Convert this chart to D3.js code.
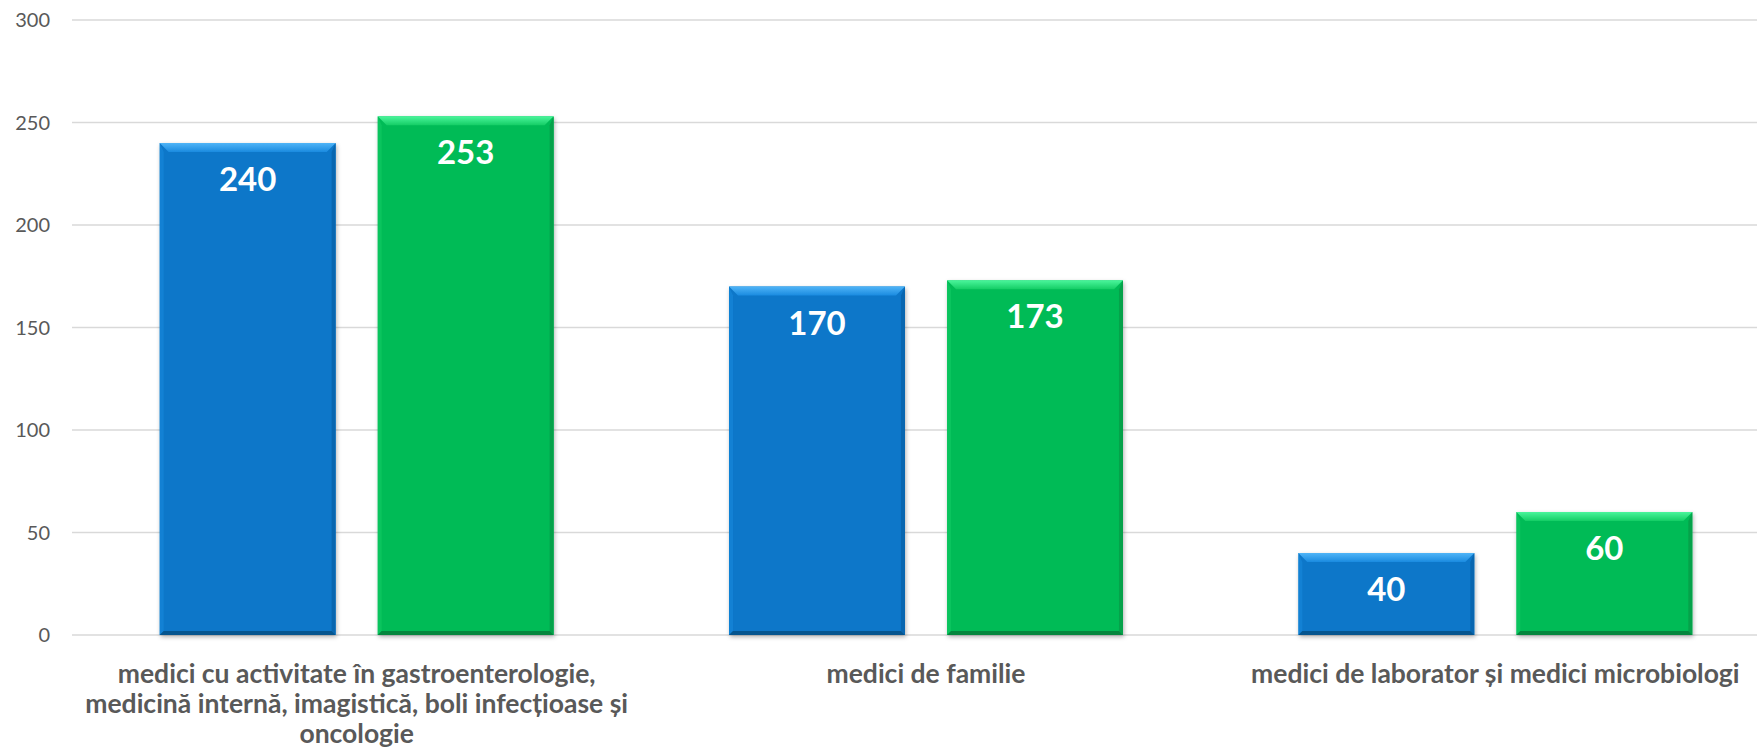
<!DOCTYPE html>
<html>
<head>
<meta charset="utf-8">
<script src="https://cdn.jsdelivr.net/npm/d3@7"></script>
<style>
  html, body { margin: 0; padding: 0; background: #fff; }
  svg { display: block; font-family: Lato, "Open Sans", sans-serif; }
</style>
</head>
<body>
<div id="root"></div>
<script>
const width = 1757;
const height = 754;

// data
const categories = [
  'medici cu activitate în gastroenterologie, medicină internă, imagistică, boli infecțioase și oncologie',
  'medici de familie',
  'medici de laborator și medici microbiologi'
];
const seriesNames = ['s1', 's2'];
const series1 = [240, 170, 40];
const series2 = [253, 173, 60];
const yTicks = [0, 50, 100, 150, 200, 250, 300];

const colors = {
  s1: {main: '#0777c9', light: '#4fb4f7', lightEnd: '#1a8be0', dark: '#05558f', side: '#0866b0'},
  s2: {main: '#06bb56', light: '#4af59b', lightEnd: '#14cd65', dark: '#04863d', side: '#05a24a'}
};

const svg = d3.select('#root')
  .append('svg')
  .attr('width', width).attr('height', height);

const defs = svg.append('defs');
const shadow = defs.append('filter').attr('id', 'shadow')
  .attr('x', '-10%').attr('y', '-10%').attr('width', '130%').attr('height', '130%');
shadow.append('feDropShadow')
  .attr('dx', 1).attr('dy', 2).attr('stdDeviation', 2)
  .attr('flood-color', '#000').attr('flood-opacity', 0.3);

seriesNames.forEach(s => {
  const g = defs.append('linearGradient').attr('id', 'top-' + s)
    .attr('x1', 0).attr('y1', 0).attr('x2', 0).attr('y2', 1);
  g.append('stop').attr('offset', '0%').attr('stop-color', colors[s].light);
  g.append('stop').attr('offset', '100%').attr('stop-color', colors[s].lightEnd);
});

const plot = {left: 72, right: 1780, top: 20, bottom: 635};

const x0 = d3.scaleBand()
  .domain(categories)
  .range([plot.left, plot.right])
  .paddingInner(0.308)
  .paddingOuter(0.154);

const x1 = d3.scaleBand()
  .domain(seriesNames)
  .range([0, x0.bandwidth()])
  .paddingInner(0.193);

const y = d3.scaleLinear()
  .domain([0, 300])
  .range([plot.bottom, plot.top]);

// gridlines
svg.append('g')
  .selectAll('line')
  .data(yTicks).enter()
  .append('line')
  .attr('x1', plot.left)
  .attr('x2', width)
  .attr('y1', d => y(d))
  .attr('y2', d => y(d))
  .attr('stroke', '#d9d9d9')
  .attr('stroke-width', 1.5);

// y axis labels
svg.append('g')
  .selectAll('text')
  .data(yTicks).enter()
  .append('text')
  .attr('x', 50)
  .attr('y', d => y(d))
  .attr('dy', '0.36em')
  .attr('text-anchor', 'end')
  .attr('font-size', 20)
  .attr('fill', '#595959')
  .text(d => d);

// bars
const rows = [];
categories.forEach((c, i) => {
  rows.push({cat: c, s: 's1', v: series1[i]});
  rows.push({cat: c, s: 's2', v: series2[i]});
});

const bev = 9;
const gs = svg.selectAll('.bar')
  .data(rows).enter()
  .append('g')
  .attr('class', 'bar')
  .attr('transform', d => `translate(${x0(d.cat) + x1(d.s)}, 0)`);

const bw = x1.bandwidth();

gs.append('rect')
  .attr('x', 0)
  .attr('y', d => y(d.v))
  .attr('width', bw)
  .attr('height', d => y(0) - y(d.v))
  .attr('fill', d => colors[d.s].main)
  .attr('filter', 'url(#shadow)');

// right side, darker
gs.append('polygon')
  .attr('points', d => {
    const t = y(d.v), b = y(0);
    return `${bw},${t} ${bw},${b} ${bw - 4},${b - 4} ${bw - 4},${t + bev}`;
  })
  .attr('fill', d => colors[d.s].side);

// left side, slightly lighter
gs.append('polygon')
  .attr('points', d => {
    const t = y(d.v), b = y(0);
    return `0,${t} 0,${b} 4,${b - 4} 4,${t + bev}`;
  })
  .attr('fill', d => colors[d.s].lightEnd)
  .attr('opacity', 0.5);

// bottom edge
gs.append('polygon')
  .attr('points', d => {
    const b = y(0);
    return `0,${b} ${bw},${b} ${bw - 4},${b - 4} 4,${b - 4}`;
  })
  .attr('fill', d => colors[d.s].dark);

// top bevel
gs.append('polygon')
  .attr('points', d => {
    const t = y(d.v);
    return `0,${t} ${bw},${t} ${bw - bev},${t + bev} ${bev},${t + bev}`;
  })
  .attr('fill', d => `url(#top-${d.s})`);

// value labels
gs.append('text')
  .attr('x', bw / 2)
  .attr('y', d => y(d.v) + 48)
  .attr('text-anchor', 'middle')
  .attr('font-size', 33)
  .attr('font-weight', 'bold')
  .attr('fill', '#fff')
  .text(d => d.v);

// category labels
const catLabels = svg.append('g')
  .selectAll('text')
  .data(categories).enter()
  .append('text')
  .attr('x', d => x0(d) + x0.bandwidth() / 2)
  .attr('y', 683)
  .attr('text-anchor', 'middle')
  .attr('font-size', 26.5)
  .attr('font-weight', 'bold')
  .attr('fill', '#595959');

function wrap(sel, maxWidth) {
  sel.each(function(d) {
    const text = d3.select(this);
    const words = d.split(' ');
    const cx = text.attr('x');
    let line = [];
    let tspan = text.append('tspan').attr('x', cx).attr('dy', 0);
    words.forEach(w => {
      line.push(w);
      tspan.text(line.join(' '));
      if (tspan.node().getComputedTextLength() > maxWidth && line.length > 1) {
        line.pop();
        tspan.text(line.join(' '));
        line = [w];
        tspan = text.append('tspan').attr('x', cx).attr('dy', 30).text(w);
      }
    });
  });
}
catLabels.call(wrap, 545);
</script>
</body>
</html>
